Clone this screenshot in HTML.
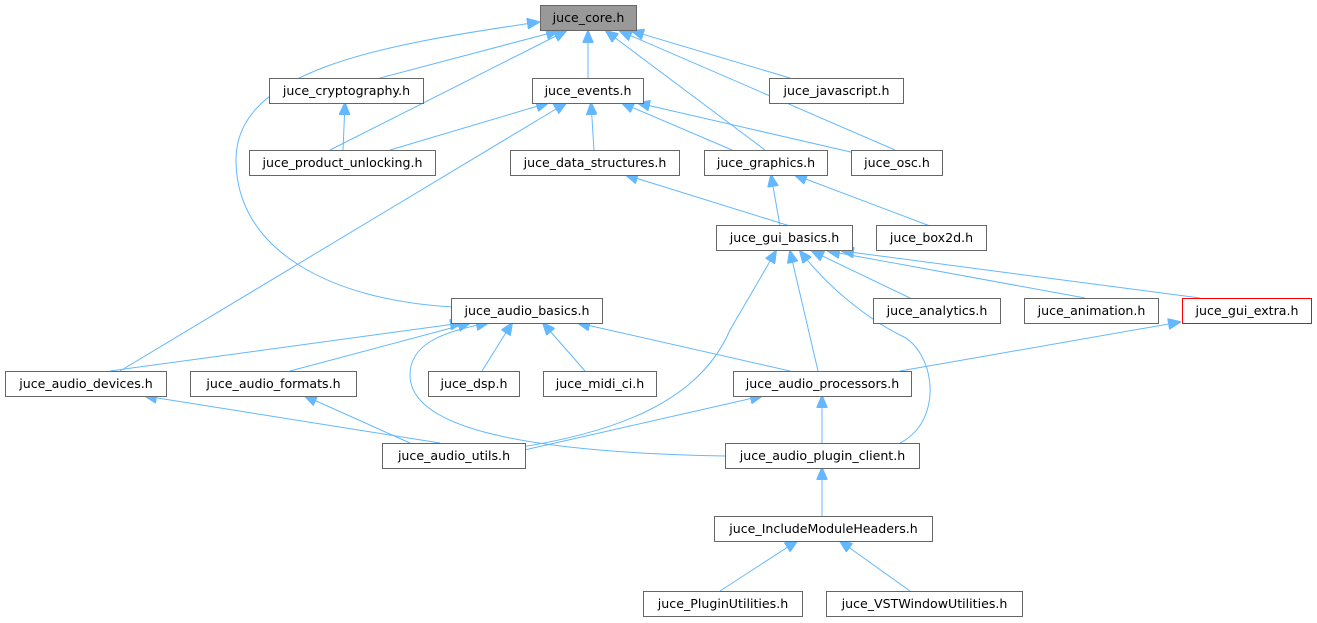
<!DOCTYPE html>
<html><head><meta charset="utf-8"><style>
html,body{margin:0;padding:0;background:#fff}
svg{display:block}
text{font-family:"DejaVu Sans","Liberation Sans",sans-serif;font-size:12.6px;fill:#000}
</style></head><body>
<svg width="1317" height="623" viewBox="0 0 1317 623" xmlns="http://www.w3.org/2000/svg">
<defs>
<marker id="a" markerWidth="13" markerHeight="11" refX="12" refY="5.5" orient="auto" markerUnits="userSpaceOnUse">
<path d="M0,0 L13,5.5 L0,11 z" fill="#63b8ff" stroke="#63b8ff"/>
</marker>
</defs>
<g fill="none" stroke="#63b8ff" stroke-width="1" marker-end="url(#a)">
<path d="M380,78 L558,31"/>
<path d="M588,78 L588,31"/>
<path d="M790,78 L632,31"/>
<path d="M330,150 L566,31"/>
<path d="M343,150 L345,103"/>
<path d="M390,150 L548,103"/>
<path d="M452,307 C330,300 236,250 236,160 C236,70 380,45 539,22"/>
<path d="M120,371 L566,103"/>
<path d="M594,150 L591,103"/>
<path d="M732,150 L622,103"/>
<path d="M855,153 L638,103"/>
<path d="M765,150 L606,31"/>
<path d="M895,150 L620,31"/>
<path d="M790,226 L626,175"/>
<path d="M780,226 L771,175"/>
<path d="M930,226 L795,175"/>
<path d="M910,298 L812,251"/>
<path d="M1085,298 L828,251"/>
<path d="M1200,298 L842,251"/>
<path d="M515,448 C620,432 700,400 730,330 L776,251"/>
<path d="M818,371 L790,251"/>
<path d="M900,443 C945,420 935,350 900,335 C870,320 830,290 800,251"/>
<path d="M110,371 L462,323"/>
<path d="M290,371 L470,323"/>
<path d="M482,371 L512,323"/>
<path d="M585,371 L543,323"/>
<path d="M790,371 L578,323"/>
<path d="M725,456 C510,452 410,425 410,375 C410,345 440,332 488,323"/>
<path d="M900,371 L1180,322"/>
<path d="M440,443 L145,396"/>
<path d="M410,443 L305,396"/>
<path d="M520,451 L762,396"/>
<path d="M822,443 L822,396"/>
<path d="M822,516 L822,468"/>
<path d="M720,591 L797,541"/>
<path d="M910,591 L840,541"/>
</g>
<g stroke="#666" stroke-width="1" fill="#fff">
<rect x="540.5" y="5.5" width="96" height="25" fill="#999"/>
<rect x="269.5" y="78.5" width="154" height="25"/>
<rect x="532.5" y="78.5" width="111" height="25"/>
<rect x="769.5" y="78.5" width="134" height="25"/>
<rect x="249.5" y="150.5" width="186" height="25"/>
<rect x="510.5" y="150.5" width="169" height="25"/>
<rect x="704.5" y="150.5" width="123" height="25"/>
<rect x="851.5" y="150.5" width="91" height="25"/>
<rect x="716.5" y="225.5" width="136" height="25"/>
<rect x="876.5" y="225.5" width="110" height="25"/>
<rect x="451.5" y="298.5" width="151" height="25"/>
<rect x="873.5" y="298.5" width="127" height="25"/>
<rect x="1024.5" y="298.5" width="134" height="25"/>
<rect x="1182.5" y="298.5" width="129" height="25" stroke="#f00"/>
<rect x="5.5" y="371.5" width="161" height="25"/>
<rect x="190.5" y="371.5" width="166" height="25"/>
<rect x="428.5" y="371.5" width="91" height="25"/>
<rect x="543.5" y="371.5" width="113" height="25"/>
<rect x="733.5" y="371.5" width="178" height="25"/>
<rect x="382.5" y="443.5" width="143" height="25"/>
<rect x="725.5" y="443.5" width="194" height="25"/>
<rect x="714.5" y="516.5" width="218" height="25"/>
<rect x="643.5" y="591.5" width="159" height="25"/>
<rect x="826.5" y="591.5" width="196" height="25"/>
</g>
<g text-anchor="middle">
<text x="588.5" y="22">juce_core.h</text>
<text x="346.5" y="95">juce_cryptography.h</text>
<text x="588" y="95">juce_events.h</text>
<text x="836.5" y="95">juce_javascript.h</text>
<text x="342.5" y="167">juce_product_unlocking.h</text>
<text x="595" y="167">juce_data_structures.h</text>
<text x="766" y="167">juce_graphics.h</text>
<text x="897" y="167">juce_osc.h</text>
<text x="784.5" y="242">juce_gui_basics.h</text>
<text x="931.5" y="242">juce_box2d.h</text>
<text x="527" y="315">juce_audio_basics.h</text>
<text x="937" y="315">juce_analytics.h</text>
<text x="1091.5" y="315">juce_animation.h</text>
<text x="1247" y="315">juce_gui_extra.h</text>
<text x="86" y="388">juce_audio_devices.h</text>
<text x="273.5" y="388">juce_audio_formats.h</text>
<text x="474" y="388">juce_dsp.h</text>
<text x="600" y="388">juce_midi_ci.h</text>
<text x="822.5" y="388">juce_audio_processors.h</text>
<text x="454" y="460">juce_audio_utils.h</text>
<text x="822.5" y="460">juce_audio_plugin_client.h</text>
<text x="823.5" y="533">juce_IncludeModuleHeaders.h</text>
<text x="723" y="608">juce_PluginUtilities.h</text>
<text x="924.5" y="608">juce_VSTWindowUtilities.h</text>
</g>
</svg>
</body></html>
